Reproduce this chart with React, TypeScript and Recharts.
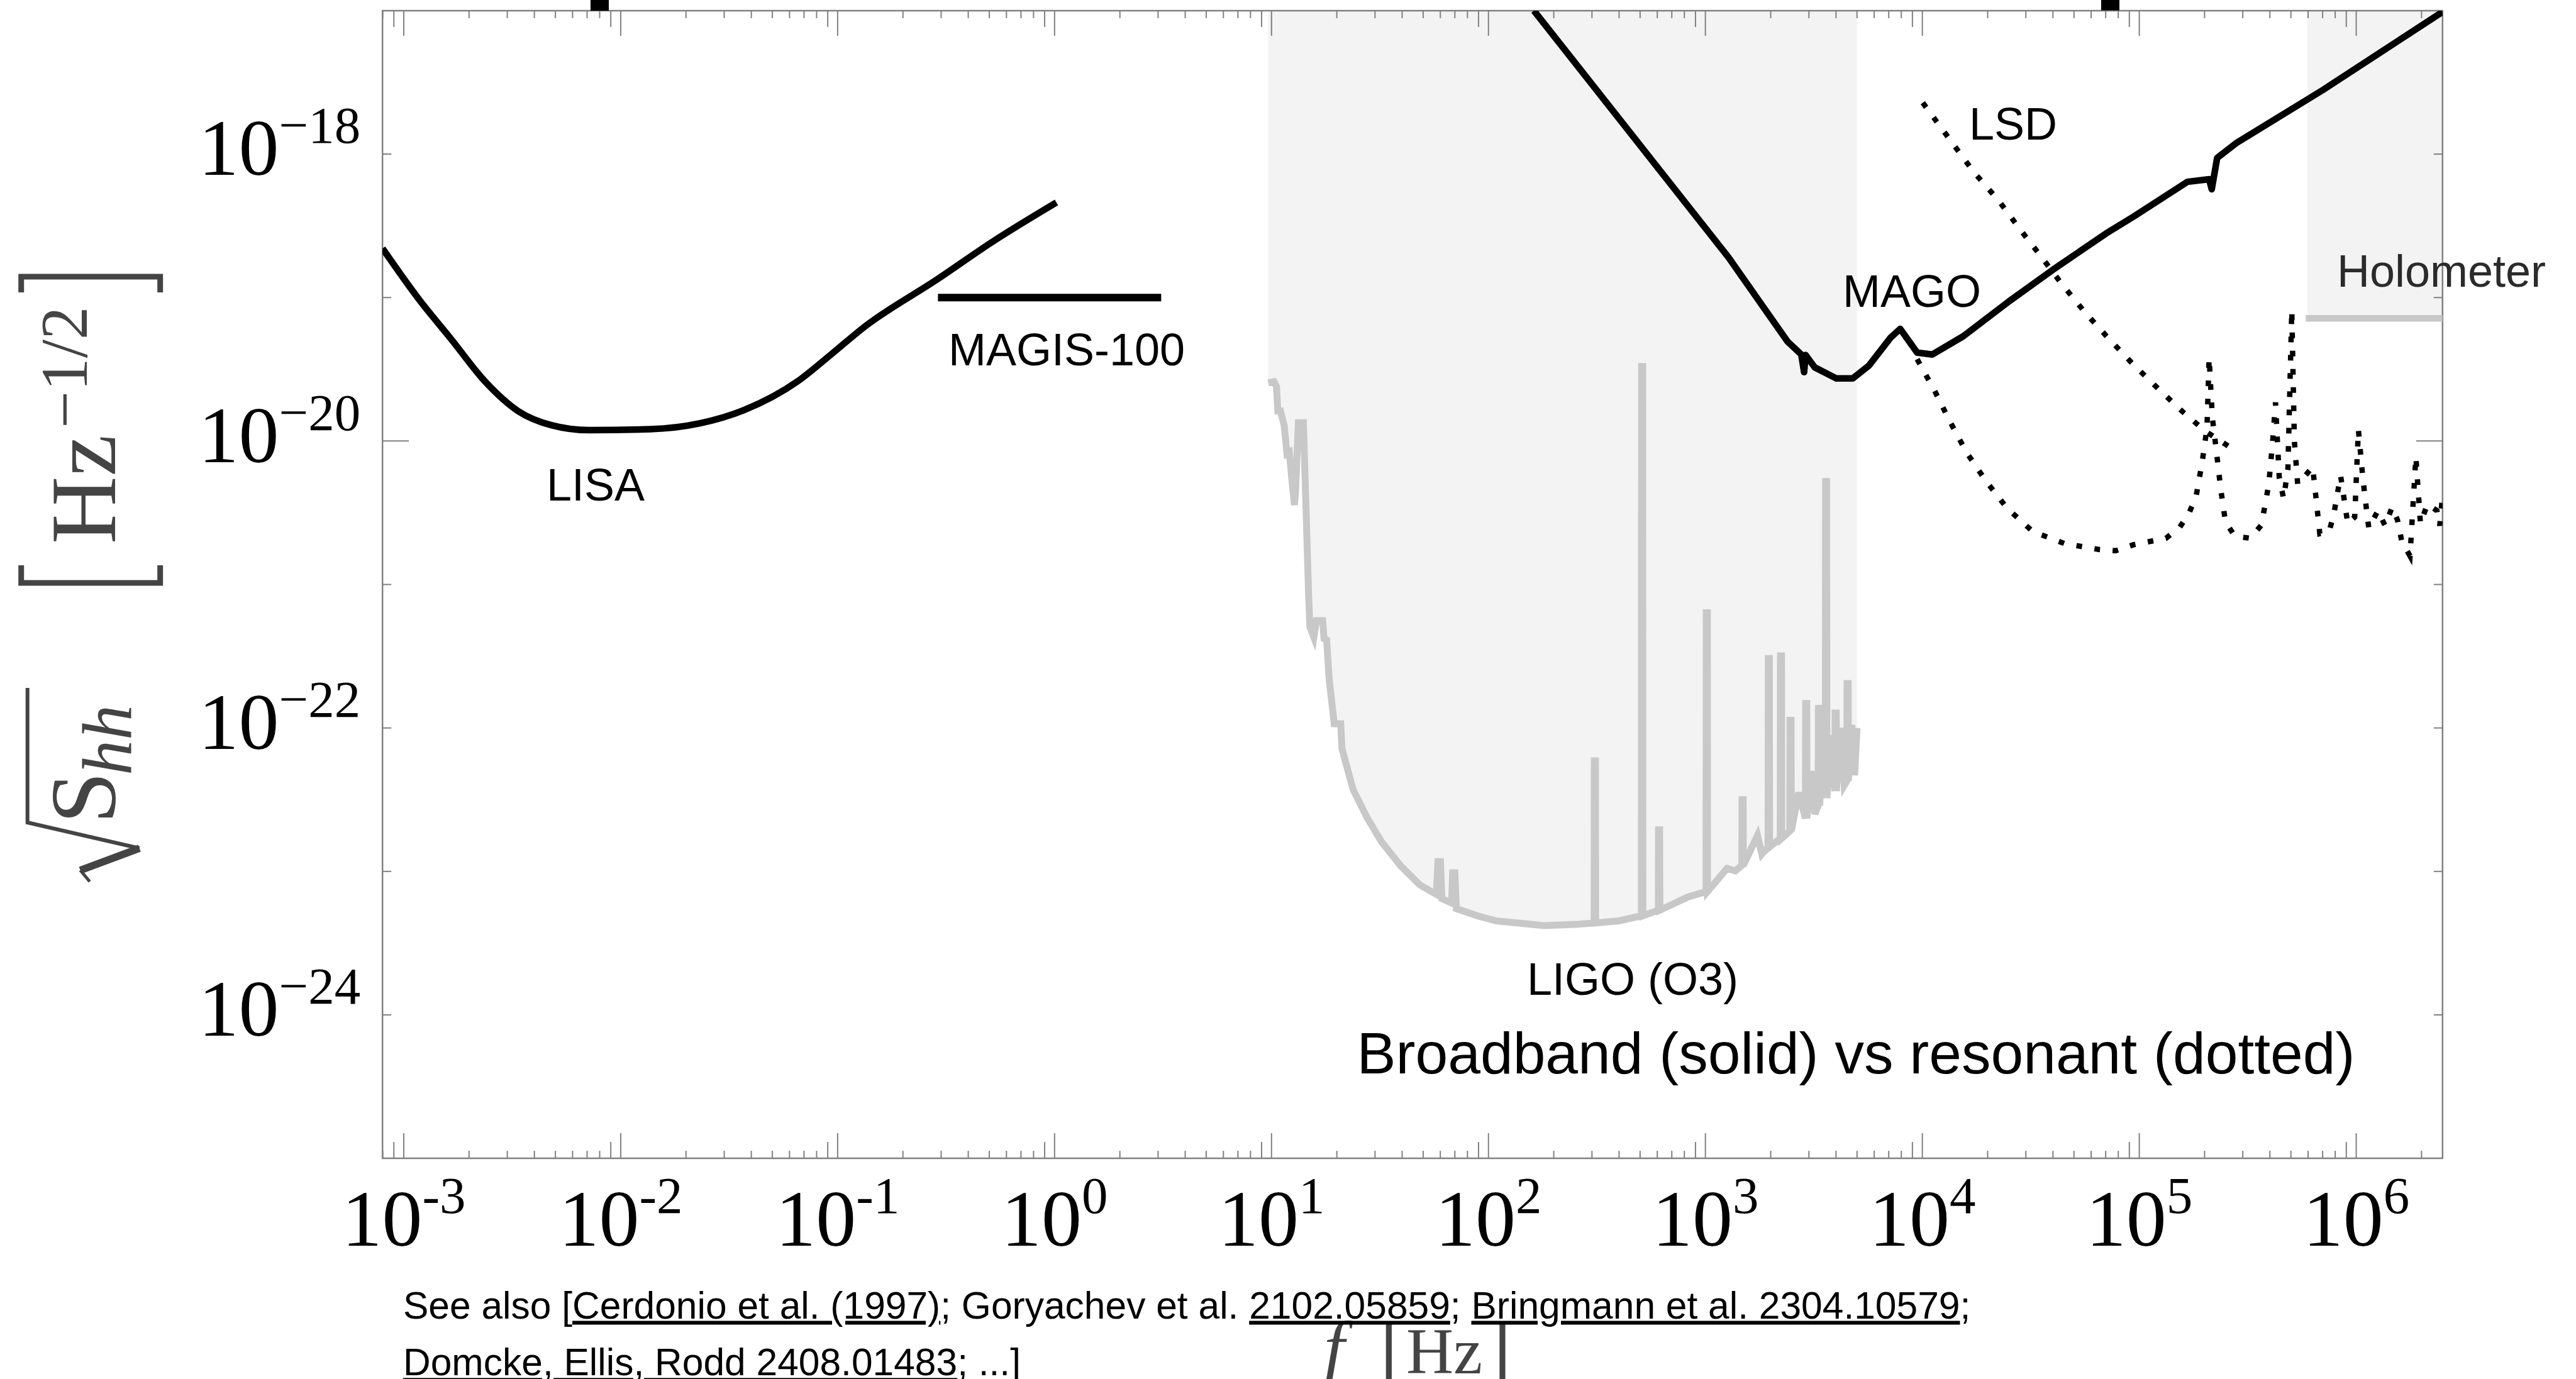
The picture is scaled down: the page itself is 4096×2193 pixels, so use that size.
import { ComposedChart, Line, Area, XAxis, YAxis, ReferenceArea } from "recharts";

const WIDTH = 4096;
const HEIGHT = 2193;
const PLOT_LEFT = 608.2;
const PLOT_RIGHT = 3883.8;
const PLOT_TOP = 16.9;
const PLOT_BOTTOM = 1842.1;

const F_MIN = 7.98e-4;
const F_MAX = 2.5e6;
const H_MIN = 1e-25;
const H_MAX = 1e-17;

const SERIF = '"Liberation Serif", "Times New Roman", serif';
const SANS = '"Liberation Sans", Arial, Helvetica, sans-serif';
const FRAME = "#808080";
const BAND_FILL = "#f3f3f3";
const GREY_CURVE = "#c8c8c8";
const AXIS_LABEL = "#444";

// ---- axes ----
const xDecades = [-3, -2, -1, 0, 1, 2, 3, 4, 5, 6];
const minorSteps = [2, 3, 4, 5, 6, 7, 8, 9];
const yDecades = [-24, -23, -22, -21, -20, -19, -18];

// ---- LISA ----
const lisaFreq = [7.98e-4, 1.17e-3, 1.66e-3, 2.37e-3, 3.36e-3, 4.79e-3, 7.16e-3, 1.37e-2, 2.32e-2, 3.69e-2, 6.64e-2, 9.4e-2, 0.132, 0.288, 0.522, 1.02];
const lisaStrain = [2.2e-19, 9.8e-20, 5.1e-20, 2.6e-20, 1.62e-20, 1.29e-20, 1.19e-20, 1.21e-20, 1.33e-20, 1.64e-20, 2.65e-20, 4.05e-20, 6.2e-20, 1.34e-19, 2.47e-19, 4.6e-19];

// ---- MAGIS-100 ----
const magisFreq = [0.29, 3.1];
const magisStrain = [1e-19, 1e-19];

// ---- LIGO O3 ----
const ligoFreq = [
  9.66, 10.26, 10.54, 10.69, 10.99, 11.43, 11.78, 12.08, 12.42, 12.76, 12.91, 13.3, 14.03, 14.83, 15.03, 15.67,
  16.11, 17.22, 17.46, 17.95, 18.45, 18.92, 19.45, 20.84, 21.13, 23.77, 27.67, 32.21, 39.45, 48.31, 57.5, 58.5,
  60.1, 61.0, 67.6, 68.4, 70.0, 71.1, 89.1, 108.9, 180.7, 251, 306.9, 307.6, 311.2, 311.9, 398, 507, 508, 514,
  515, 607, 608, 615, 617, 828, 1007, 1009, 1021, 1023, 1259, 1374, 1472, 1476, 1493, 1496, 1738, 1820, 1945,
  1950, 1972, 1977, 2213, 2218, 2244, 2249, 2449, 2455, 2483, 2489, 2692, 2891, 2897, 2931, 2938, 3090, 3199,
  3311, 3319, 3357, 3365, 3467, 3573, 3581, 3622, 3631, 3802, 3954, 3963, 4009, 4018, 4217, 4365, 4487, 4498,
  4550, 4560, 4732, 4875, 5000,
];
const ligoStrain = [
  2.54e-20, 2.59e-20, 2.4e-20, 1.62e-20, 1.62e-20, 1.29e-20, 8.18e-21, 8.36e-21, 5.3e-21, 3.58e-21, 4.51e-21,
  1.34e-20, 1.34e-20, 8.32e-22, 5.06e-22, 4.28e-22, 5.6e-22, 5.6e-22, 4.19e-22, 4.11e-22, 2.16e-22, 1.56e-22,
  1.07e-22, 1.07e-22, 7.16e-23, 3.72e-23, 2.35e-23, 1.6e-23, 1.09e-23, 8.04e-24, 6.92e-24, 1.17e-23, 1.17e-23,
  6.46e-24, 6.03e-24, 9.77e-24, 9.77e-24, 5.5e-24, 4.9e-24, 4.52e-24, 4.19e-24, 4.27e-24, 4.37e-24, 5.89e-23,
  5.89e-23, 4.37e-24, 4.52e-24, 4.9e-24, 3.31e-20, 3.31e-20, 4.9e-24, 5.37e-24, 1.95e-23, 1.95e-23, 5.37e-24,
  6.62e-24, 7.24e-24, 6.35e-22, 6.35e-22, 7.24e-24, 1.05e-23, 1.01e-23, 1.1e-23, 3.16e-23, 3.16e-23, 1.1e-23,
  1.78e-23, 1.32e-23, 1.48e-23, 3.05e-22, 3.05e-22, 1.48e-23, 1.7e-23, 3.18e-22, 3.18e-22, 1.7e-23, 1.91e-23,
  1.13e-22, 1.13e-22, 1.91e-23, 3.55e-23, 2.34e-23, 1.48e-22, 1.48e-22, 2.34e-23, 5.01e-23, 2.51e-23, 2.88e-23,
  1.37e-22, 1.37e-22, 2.88e-23, 7.94e-23, 3.24e-23, 5.22e-21, 5.22e-21, 3.24e-23, 8.91e-23, 3.63e-23, 1.27e-22,
  1.27e-22, 3.63e-23, 1e-22, 3.98e-23, 4.27e-23, 2.04e-22, 2.04e-22, 4.27e-23, 1.05e-22, 4.68e-23, 1e-22,
];

// ---- broadband MAGO / high-frequency cavity ----
const broadFreq = [162, 1276, 2393, 2767, 2851, 2897, 3192, 4018, 4775, 5675, 7129, 7907, 9462, 11117, 15453, 25119, 39811, 70632, 93972, 166725, 209894, 215774, 228560, 279254, 699842, 2.5e6];
const broadStrain = [1e-17, 1.91e-19, 4.93e-20, 4.01e-20, 3.02e-20, 3.98e-20, 3.26e-20, 2.73e-20, 2.73e-20, 3.36e-20, 5.24e-20, 6.05e-20, 4.13e-20, 4.01e-20, 5.38e-20, 9.42e-20, 1.556e-19, 2.81e-19, 3.66e-19, 6.41e-19, 6.68e-19, 5.69e-19, 9.4e-19, 1.19e-18, 2.79e-18, 9.8e-18];

// ---- LSD (resonant) ----
const lsdFreq = [10046, 12647, 17338, 22439, 28249, 35481, 43451, 56105, 70632, 91411, 118304, 157761, 201837, 242661, 281190];
const lsdStrain = [2.28e-18, 1.42e-18, 7.43e-19, 4.76e-19, 2.98e-19, 1.91e-19, 1.27e-19, 7.91e-20, 5.38e-20, 3.56e-20, 2.43e-20, 1.61e-20, 1.17e-20, 9.77e-21, 8.38e-21];

// ---- resonant MAGO modes ----
const resFreq = [
  9462, 11376, 13397, 15959, 19634, 24547, 32285, 45186, 65615, 77983, 93756, 132739, 153815, 169824, 182810,
  194984, 205116, 209894, 217270, 227510, 237140, 249460, 275420, 325840, 365600, 395370, 412100, 424600,
  441570, 462380, 484170, 504660, 518800, 537030, 575440, 629510, 653130, 679200, 749890, 787050, 847230,
  914100, 984000, 1023300, 1071500, 1116900, 1142900, 1258900, 1358300, 1462200, 1548800, 1621800, 1770100,
  1883600, 1977000, 2128100, 2355000, 2426600, 2.5e6,
];
const resStrain = [
  3.72e-20, 2.25e-20, 1.37e-20, 8.36e-21, 5.27e-21, 3.41e-21, 2.34e-21, 1.93e-21, 1.75e-21, 1.72e-21, 1.89e-21,
  2.1e-21, 2.51e-21, 3.16e-21, 4.12e-21, 7.13e-21, 1.23e-20, 3.8e-20, 1.45e-20, 8.13e-21, 4.68e-21, 2.75e-21,
  2.17e-21, 2.1e-21, 2.6e-21, 5.01e-21, 1e-20, 1.86e-20, 5.62e-21, 3.98e-21, 6.31e-21, 8.18e-20, 1e-20, 5.01e-21,
  5.62e-21, 6.61e-21, 3.98e-21, 2.26e-21, 2.34e-21, 3.05e-21, 5.75e-21, 2.65e-21, 2.95e-21, 1.2e-20, 5.62e-21,
  3.27e-21, 2.47e-21, 3.27e-21, 2.57e-21, 3.45e-21, 2.82e-21, 2e-21, 1.58e-21, 7.78e-21, 2.65e-21, 3.63e-21,
  3.27e-21, 2.57e-21, 4.17e-21,
];

// ---- Holometer ----
const holoFreq = [5.85e5, 2.5e6];
const holoStrain = [7.16e-20, 7.16e-20];
const holoBandStart = 5.95e5;

const pairs = (fs: number[], hs: number[]) => fs.map((f, i) => ({ f, h: hs[i] }));

const lisaData = pairs(lisaFreq, lisaStrain);
const magisData = pairs(magisFreq, magisStrain);
const ligoData = pairs(ligoFreq, ligoStrain);
const ligoBand = ligoFreq.map((f, i) => ({ f, band: [ligoStrain[i], H_MAX] }));
const broadData = pairs(broadFreq, broadStrain);
const lsdData = pairs(lsdFreq, lsdStrain);
const resData = pairs(resFreq, resStrain);
const holoData = pairs(holoFreq, holoStrain);

// tick positions: decades plus 2..9 subdivisions
const xTicks: number[] = [];
const xTickInfo = new Map<number, { len: number; exp?: number }>();
for (const d of [-4, ...xDecades]) {
  for (const m of [1, ...minorSteps]) {
    const v = m * 10 ** d;
    if (v < F_MIN || v > F_MAX) continue;
    xTicks.push(v);
    xTickInfo.set(v, m === 1 ? { len: 40, exp: d } : { len: m === 9 ? 26 : 12 });
  }
}
const yTicks = yDecades.map((d) => 10 ** d);

const XTick = (props: any) => {
  const { x, y, payload } = props;
  const info = xTickInfo.get(payload.value) ?? { len: 12 };
  const top = y - (PLOT_BOTTOM - PLOT_TOP);
  return (
    <g>
      <line x1={x} y1={y} x2={x} y2={y - info.len} stroke={FRAME} strokeWidth={2} />
      <line x1={x} y1={top} x2={x} y2={top + info.len} stroke={FRAME} strokeWidth={2} />
      {info.exp !== undefined && (
        <text x={x} y={y + 139} textAnchor="middle" fontFamily={SERIF} fontSize={128} fill="#000">
          10
          <tspan dy={-52} fontSize={83}>
            {info.exp < 0 ? `-${-info.exp}` : `${info.exp}`}
          </tspan>
        </text>
      )}
    </g>
  );
};

const YTick = (props: any) => {
  const { x, y, payload } = props;
  const exp = Math.round(Math.log10(payload.value));
  const len = exp === -20 ? 42 : 14;
  return (
    <g>
      <line x1={x} y1={y} x2={x + len} y2={y} stroke={FRAME} strokeWidth={2} />
      <line x1={PLOT_RIGHT} y1={y} x2={PLOT_RIGHT - len} y2={y} stroke={FRAME} strokeWidth={2} />
      {exp % 2 === 0 && (
        <text x={x - 35} y={y + 33.4} textAnchor="end" fontFamily={SERIF} fontSize={128} fill="#000">
          10
          <tspan dy={-51} fontSize={83}>
            {`\u2212${-exp}`}
          </tspan>
        </text>
      )}
    </g>
  );
};

const curveLabels = [
  { text: "LISA", x: 947, y: 796, fill: "#000" },
  { text: "MAGIS-100", x: 1696, y: 581, fill: "#000" },
  { text: "LSD", x: 3201, y: 222, fill: "#000" },
  { text: "MAGO", x: 3040, y: 488, fill: "#000" },
  { text: "LIGO (O3)", x: 2596, y: 1582, fill: "#000" },
  { text: "Holometer", x: 3882, y: 456, fill: "#2b2b2b" },
];

const underline = { textDecoration: "underline" } as const;

export default function App() {
  return (
    <div style={{ position: "absolute", left: 0, top: 0, width: WIDTH, height: HEIGHT, overflow: "hidden", background: "#fff" }}>
      <ComposedChart
        width={WIDTH}
        height={HEIGHT}
        margin={{ top: PLOT_TOP, right: WIDTH - PLOT_RIGHT, bottom: 0, left: 0 }}
      >
        <XAxis
          type="number"
          dataKey="f"
          scale="log"
          domain={[F_MIN, F_MAX]}
          allowDataOverflow
          ticks={xTicks}
          interval={0}
          tick={(p: any) => <XTick {...p} />}
          tickLine={false}
          axisLine={false}
          tickSize={0}
          tickMargin={0}
          height={HEIGHT - PLOT_BOTTOM}
        />
        <YAxis
          type="number"
          scale="log"
          domain={[H_MIN, H_MAX]}
          allowDataOverflow
          ticks={yTicks}
          interval={0}
          tick={(p: any) => <YTick {...p} />}
          tickLine={false}
          axisLine={false}
          tickSize={0}
          tickMargin={0}
          width={PLOT_LEFT}
        />

        {/* excluded regions above LIGO and Holometer */}
        <Area data={ligoBand} dataKey="band" type="linear" stroke="none" fill={BAND_FILL} fillOpacity={1} isAnimationActive={false} />
        <ReferenceArea x1={holoBandStart} x2={F_MAX} y1={holoStrain[0]} y2={H_MAX} fill={BAND_FILL} fillOpacity={1} stroke="none" />

        <Line data={ligoData} dataKey="h" type="linear" stroke={GREY_CURVE} strokeWidth={11} dot={false} isAnimationActive={false} />
        <Line data={holoData} dataKey="h" type="linear" stroke={GREY_CURVE} strokeWidth={10.5} dot={false} isAnimationActive={false} />

        <Line data={lisaData} dataKey="h" type="monotone" stroke="#000" strokeWidth={10.5} dot={false} isAnimationActive={false} />
        <Line data={magisData} dataKey="h" type="linear" stroke="#000" strokeWidth={12} dot={false} isAnimationActive={false} />
        <Line data={broadData} dataKey="h" type="linear" stroke="#000" strokeWidth={10.5} strokeLinejoin="round" dot={false} isAnimationActive={false} />

        <Line data={lsdData} dataKey="h" type="linear" stroke="#000" strokeWidth={8.5} strokeDasharray="9 20" dot={false} isAnimationActive={false} />
        <Line data={resData} dataKey="h" type="linear" stroke="#000" strokeWidth={8.5} strokeDasharray="9 20" dot={false} isAnimationActive={false} />

        {/* plot frame */}
        <ReferenceArea x1={F_MIN} x2={F_MAX} y1={H_MIN} y2={H_MAX} fill="none" stroke={FRAME} strokeWidth={2.5} />
      </ComposedChart>

      <svg width={WIDTH} height={HEIGHT} style={{ position: "absolute", left: 0, top: 0, pointerEvents: "none" }}>
        {/* clipped marks from the heading above the frame */}
        <rect x={939} y={0} width={29} height={17} fill="#000" />
        <rect x={3341} y={0} width={29} height={16.5} fill="#000" />

        {curveLabels.map((l) => (
          <text key={l.text} x={l.x} y={l.y} textAnchor="middle" fontFamily={SANS} fontSize={72} fill={l.fill}>
            {l.text}
          </text>
        ))}
        <text x={2951} y={1707} textAnchor="middle" fontFamily={SANS} fontSize={93} fill="#000">
          Broadband (solid) vs resonant (dotted)
        </text>

        {/* y axis title, rotated */}
        <g transform="translate(182.7,1406) rotate(-90)" fill={AXIS_LABEL} stroke="none" fontFamily={SERIF}>
          <path d="M4,-40 L22,-55" stroke={AXIS_LABEL} strokeWidth={5} fill="none" />
          <path d="M22,-55 L57,39" stroke={AXIS_LABEL} strokeWidth={12} fill="none" />
          <path d="M57,39 L98,-139 L312,-139" stroke={AXIS_LABEL} strokeWidth={6} fill="none" strokeLinejoin="miter" />
          <text x={96} y={0} fontSize={149}>S</text>
          <text x={173} y={26} fontSize={112} fontStyle="italic">hh</text>
          <path d="M507,-149 L479,-149 L479,72 L507,72" stroke={AXIS_LABEL} strokeWidth={9} fill="none" />
          <text x={541} y={0} fontSize={149}>Hz</text>
          <text x={725} y={-45} fontSize={105}>{"\u22121/2"}</text>
          <path d="M941,-149 L966,-149 L966,72 L941,72" stroke={AXIS_LABEL} strokeWidth={9} fill="none" />
        </g>

        {/* x axis title */}
        <text y={2184} fill={AXIS_LABEL} fontFamily={SERIF}>
          <tspan x={2105} fontStyle="italic" fontSize={118}>f</tspan>
          <tspan x={2195} fontSize={118}>[</tspan>
          <tspan x={2236} fontSize={104}>Hz</tspan>
          <tspan x={2363} fontSize={118}>]</tspan>
        </text>

        {/* references */}
        <text x={641} y={2096.5} fontFamily={SANS} fontSize={60.5} fill="#000">
          See also [<tspan style={underline}>Cerdonio et al. (1997)</tspan>; Goryachev et al.{" "}
          <tspan style={underline}>2102.05859</tspan>; <tspan style={underline}>Bringmann et al. 2304.10579</tspan>;
        </text>
        <text x={641} y={2187.4} fontFamily={SANS} fontSize={60.5} fill="#000">
          <tspan style={underline}>Domcke, Ellis, Rodd 2408.01483</tspan>; ...]
        </text>
      </svg>
    </div>
  );
}
